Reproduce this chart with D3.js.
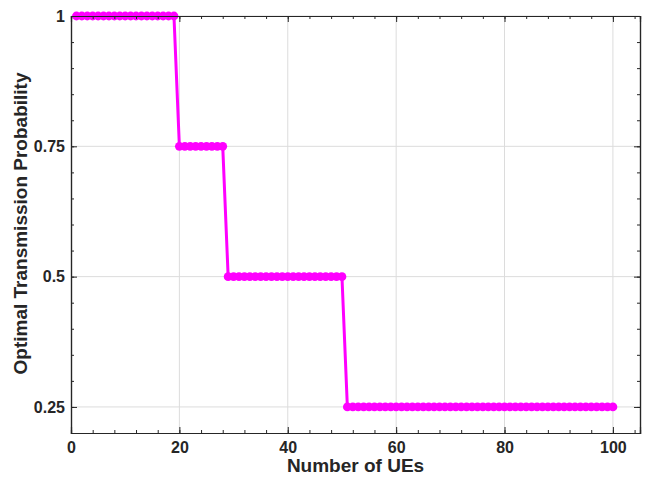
<!DOCTYPE html>
<html><head><meta charset="utf-8">
<script src="https://cdn.jsdelivr.net/npm/d3@7"></script>
<style>body{margin:0;background:#fff}svg{display:block}text{font-family:"Liberation Sans",Arial,sans-serif;font-weight:bold;fill:#262626}</style>
</head><body>
<script>
const numUEs = d3.range(1, 101);
const probLevels = [1, 0.75, 0.5, 0.25];
const levelEnds = [19, 28, 50, 100]; // last UE count at each level
const probValues = numUEs.map(n => probLevels[levelEnds.findIndex(e => n <= e)]);
const xTicks = [0, 20, 40, 60, 80, 100];
const yTicks = [0.25, 0.5, 0.75, 1];
const yTickLabels = ["0.25", "0.5", "0.75", "1"];

const W = 652, H = 477;
const m = {l: 71, r: 12, t: 16, b: 44};
const svg = d3.select("body").append("svg").attr("width", W).attr("height", H);
const x = d3.scaleLinear().domain([0, 105]).range([m.l, W - m.r]);
const y = d3.scaleLinear().domain([0.2, 1]).range([H - m.b, m.t]);

// grid
const g = svg.append("g");
g.selectAll(".gx").data(xTicks.filter(d => d > 0)).join("line")
  .attr("x1", d => x(d)).attr("x2", d => x(d)).attr("y1", m.t).attr("y2", H - m.b)
  .attr("stroke", "#dcdcdc").attr("stroke-width", 1);
g.selectAll(".gy").data(yTicks).join("line")
  .attr("y1", d => y(d)).attr("y2", d => y(d)).attr("x1", m.l).attr("x2", W - m.r)
  .attr("stroke", "#dcdcdc").attr("stroke-width", 1);

// axes
const xMinor = d3.range(0, 105.01, 4);
const yMinor = d3.range(0.2, 1.001, 0.05);
function axes() {
  svg.append("g").attr("transform", `translate(0,${H - m.b})`)
    .call(d3.axisBottom(x).tickValues(xTicks).tickSize(-6).tickPadding(9).tickFormat(d3.format("d")));
  svg.append("g").attr("transform", `translate(0,${m.t})`)
    .call(d3.axisTop(x).tickValues(xTicks).tickSize(-6).tickFormat(""));
  svg.append("g").attr("transform", `translate(${m.l},0)`)
    .call(d3.axisLeft(y).tickValues(yTicks).tickSize(-6).tickPadding(6).tickFormat((d, i) => yTickLabels[i]));
  svg.append("g").attr("transform", `translate(${W - m.r},0)`)
    .call(d3.axisRight(y).tickValues(yTicks).tickSize(-6).tickFormat(""));
  svg.append("g").attr("transform", `translate(0,${H - m.b})`)
    .call(d3.axisBottom(x).tickValues(xMinor).tickSize(-3).tickFormat(""));
  svg.append("g").attr("transform", `translate(0,${m.t})`)
    .call(d3.axisTop(x).tickValues(xMinor).tickSize(-3).tickFormat(""));
  svg.append("g").attr("transform", `translate(${m.l},0)`)
    .call(d3.axisLeft(y).tickValues(yMinor).tickSize(-3).tickFormat(""));
  svg.append("g").attr("transform", `translate(${W - m.r},0)`)
    .call(d3.axisRight(y).tickValues(yMinor).tickSize(-3).tickFormat(""));
  svg.selectAll(".domain").attr("stroke", "#262626").attr("stroke-width", 1.2);
  svg.selectAll(".tick line").attr("stroke", "#262626");
  svg.selectAll(".tick text").attr("font-size", 16).attr("font-weight", "bold")
    .attr("font-family", "'Liberation Sans',Arial,sans-serif").attr("fill", "#262626");
}

// line & markers
const pts = numUEs.map((n, i) => [n, probValues[i]]);
svg.append("path").datum(pts)
  .attr("d", d3.line().x(d => x(d[0])).y(d => y(d[1])))
  .attr("fill", "none").attr("stroke", "#ff00ff").attr("stroke-width", 3);
svg.append("g").selectAll("circle").data(pts).join("circle")
  .attr("cx", d => x(d[0])).attr("cy", d => y(d[1])).attr("r", 4.4)
  .attr("fill", "#ff00ff");

axes();

svg.append("text").attr("x", x(52.5)).attr("y", 472).attr("text-anchor", "middle")
  .attr("font-size", 19).text("Number of UEs");
svg.append("text").attr("transform", `translate(27,${y(0.6) - 1}) rotate(-90)`)
  .attr("text-anchor", "middle").attr("font-size", 19).text("Optimal Transmission Probability");
</script>
</body></html>
